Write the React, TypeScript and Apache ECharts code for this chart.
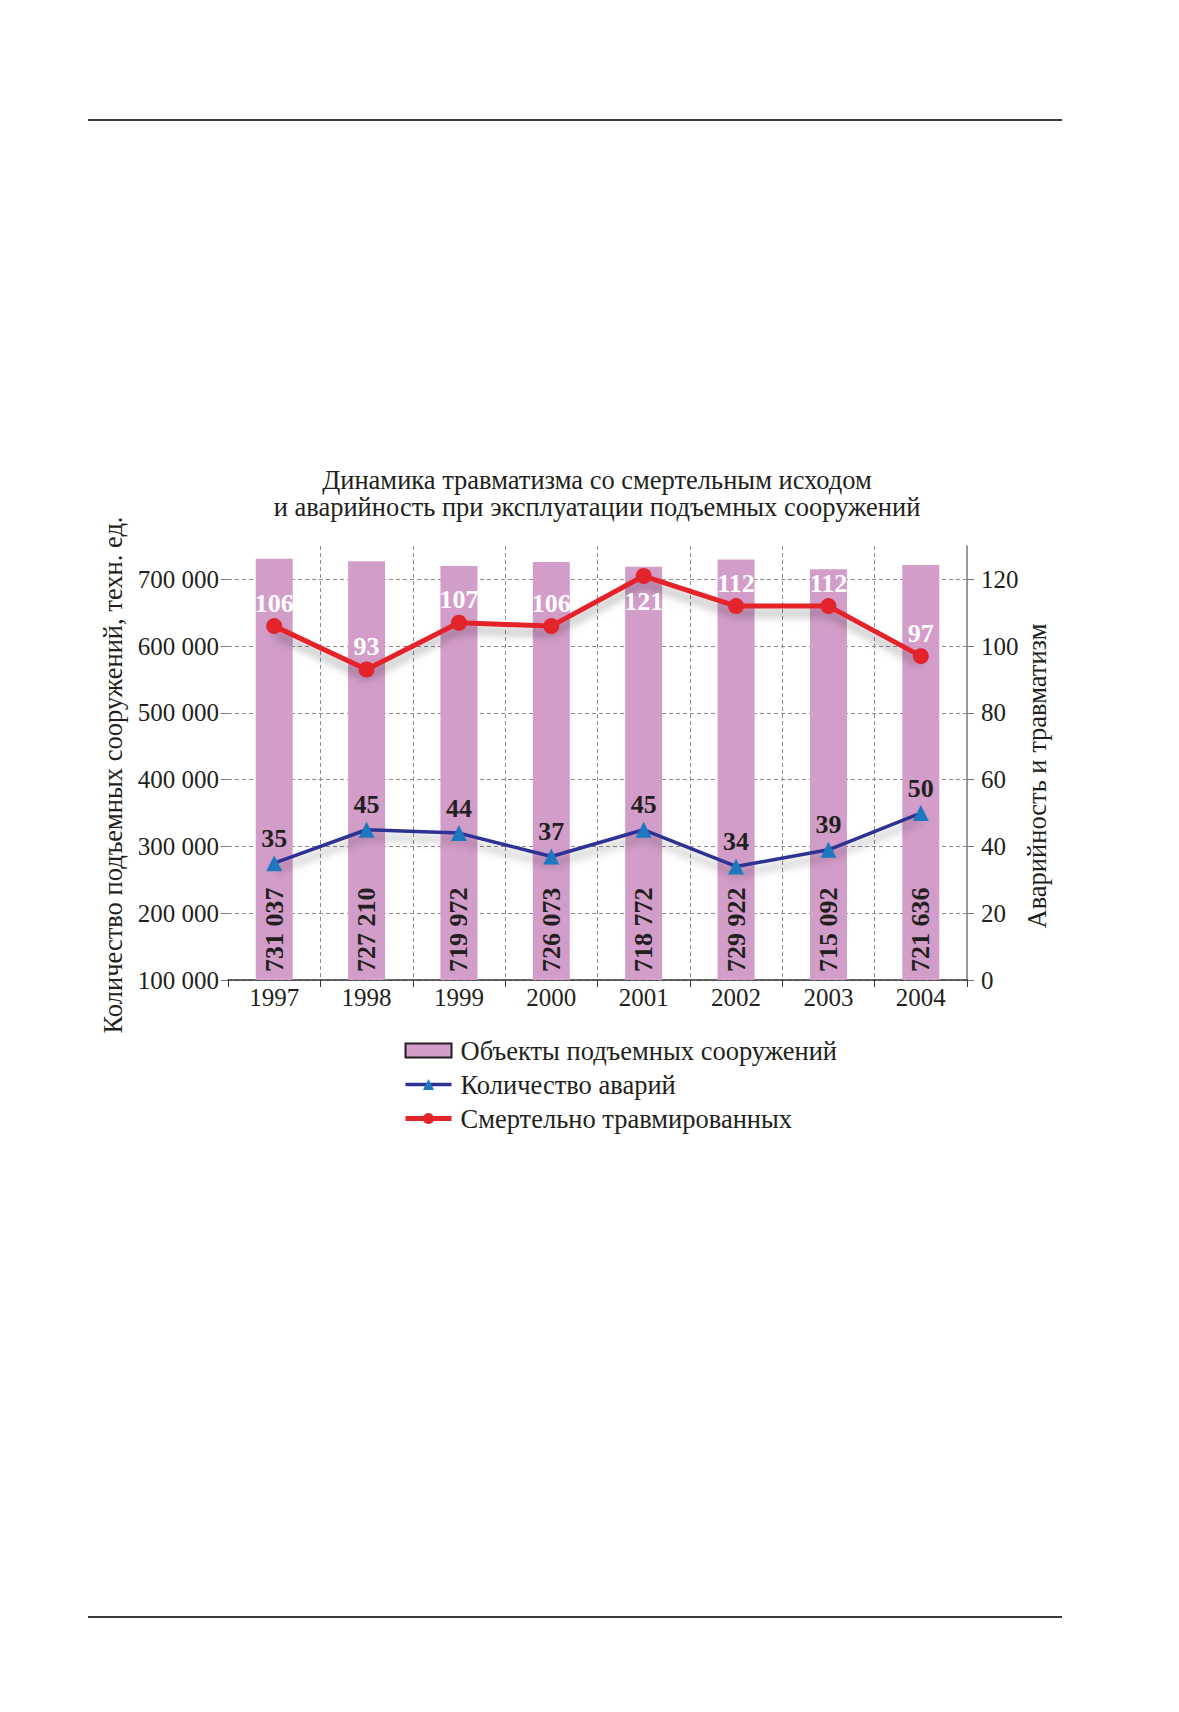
import React, { useEffect, useRef } from "react";
import * as echarts from "echarts";

const years = ["1997", "1998", "1999", "2000", "2001", "2002", "2003", "2004"];
const objectsCount = [731037, 727210, 719972, 726073, 718772, 729922, 715092, 721636];
const accidents = [35, 45, 44, 37, 45, 34, 39, 50];
const deaths = [106, 93, 107, 106, 121, 112, 112, 97];
const leftTicks = [100000, 200000, 300000, 400000, 500000, 600000, 700000];
const rightTicks = [0, 20, 40, 60, 80, 100, 120];

const titleLines = [
  "Динамика травматизма со смертельным исходом",
  "и аварийность при эксплуатации подъемных сооружений",
];
const leftName = "Количество подъемных сооружений, техн. ед.";
const rightName = "Аварийность и травматизм";
const legendNames = [
  "Объекты подъемных сооружений",
  "Количество аварий",
  "Смертельно травмированных",
];

const FONT = "'Liberation Serif', 'Times New Roman', serif";
const INK = "#231f20";
const fmt = (n: number) => String(n).replace(/\B(?=(\d{3})+(?!\d))/g, " ");

export default function App() {
  const ref = useRef<HTMLDivElement>(null);
  useEffect(() => {
    if (!ref.current) return;
    const chart = echarts.init(ref.current, null, { renderer: "svg" });
    const gridStyle = { type: [4, 3] as any, color: "#8c8c8c", width: 1 };
    chart.setOption({
      animation: false,
      backgroundColor: "#ffffff",
      textStyle: { fontFamily: FONT },
      grid: { left: 228, right: 212, top: 546, bottom: 732, containLabel: false },
      graphic: [
        { type: "line", shape: { x1: 88, y1: 120, x2: 1062, y2: 120 }, style: { stroke: "#3a3a3a", lineWidth: 2 } },
        { type: "line", shape: { x1: 88, y1: 1617, x2: 1062, y2: 1617 }, style: { stroke: "#3a3a3a", lineWidth: 2 } },
        {
          type: "text", x: 597, y: 480,
          style: { text: titleLines[0], textAlign: "center", textVerticalAlign: "middle", font: `26.5px ${FONT}`, fill: INK },
        },
        {
          type: "text", x: 597, y: 507,
          style: { text: titleLines[1], textAlign: "center", textVerticalAlign: "middle", font: `26.5px ${FONT}`, fill: INK },
        },
        {
          type: "text", x: 113, y: 775, rotation: Math.PI / 2,
          style: { text: leftName, textAlign: "center", textVerticalAlign: "middle", font: `26.5px ${FONT}`, fill: INK },
        },
        {
          type: "text", x: 1037, y: 776, rotation: Math.PI / 2,
          style: { text: rightName, textAlign: "center", textVerticalAlign: "middle", font: `26.5px ${FONT}`, fill: INK },
        },
      ],
      legend: {
        orient: "vertical",
        left: 403,
        top: 1037,
        padding: 0,
        itemWidth: 46,
        itemHeight: 14,
        itemGap: 7,
        lineStyle: { width: "inherit" },
        textStyle: { fontSize: 26.5, lineHeight: 24, color: INK, fontFamily: FONT, padding: [0, 0, 0, 4] },
        data: [
          { name: legendNames[0], icon: "rect", itemStyle: { borderColor: INK, borderWidth: 2 } },
          { name: legendNames[1] },
          { name: legendNames[2] },
        ],
      },
      xAxis: {
        type: "category",
        data: years,
        boundaryGap: true,
        axisLine: { show: true, lineStyle: { color: "#333", width: 1.5 } },
        axisTick: { show: true, length: 7, interval: 0, lineStyle: { color: "#333" } },
        axisLabel: { fontSize: 25, color: INK, fontFamily: FONT, margin: 5 },
        splitLine: { show: true, interval: (i: number) => i !== 0, lineStyle: gridStyle },
      },
      yAxis: [
        {
          type: "value",
          min: 100000,
          max: 750000,
          interval: 100000,
          axisLine: { show: false },
          axisTick: { show: true, length: 7, customValues: leftTicks, lineStyle: { color: "#777" } },
          axisLabel: { customValues: leftTicks, fontSize: 25, color: INK, fontFamily: FONT, margin: 9, formatter: (v: number) => fmt(v) },
          splitLine: { show: true, lineStyle: gridStyle },
        },
        {
          type: "value",
          min: 0,
          max: 130,
          interval: 20,
          axisLine: { show: true, lineStyle: { color: "#9a9a9a", width: 2 } },
          axisTick: { show: true, length: 7, customValues: rightTicks, lineStyle: { color: "#777" } },
          axisLabel: { customValues: rightTicks, fontSize: 25, color: INK, fontFamily: FONT, margin: 14 },
          splitLine: { show: false },
        },
      ],
      series: [
        {
          name: legendNames[0],
          type: "bar",
          yAxisIndex: 0,
          data: objectsCount,
          barWidth: 37,
          itemStyle: { color: "#d39dc9" },
          label: {
            show: true,
            position: "insideBottom",
            rotate: 90,
            align: "left",
            verticalAlign: "middle",
            distance: 8,
            fontSize: 26,
            fontWeight: "bold",
            color: INK,
            fontFamily: FONT,
            formatter: (p: any) => fmt(p.value),
          },
          z: 2,
        },
        {
          name: legendNames[1],
          type: "line",
          yAxisIndex: 1,
          data: accidents,
          symbol: "triangle",
          symbolSize: 16,
          itemStyle: { color: "#1e78c0" },
          lineStyle: { color: "#2e3192", width: 3.5, shadowColor: "rgba(0,0,0,0.35)", shadowBlur: 10, shadowOffsetY: 7 },
          label: {
            show: true,
            position: "top",
            distance: 4,
            fontSize: 26,
            fontWeight: "bold",
            color: INK,
            fontFamily: FONT,
          },
          z: 3,
        },
        {
          name: legendNames[2],
          type: "line",
          yAxisIndex: 1,
          data: deaths.map((v, i) =>
            i === 4 ? { value: v, label: { position: "bottom", distance: 4 } } : v
          ),
          symbol: "circle",
          symbolSize: 16,
          itemStyle: { color: "#e3242b" },
          lineStyle: { color: "#e3242b", width: 5, shadowColor: "rgba(0,0,0,0.35)", shadowBlur: 10, shadowOffsetY: 7 },
          label: {
            show: true,
            position: "top",
            distance: 2,
            fontSize: 26,
            fontWeight: "bold",
            color: "#ffffff",
            fontFamily: FONT,
          },
          z: 4,
        },
      ],
    });
    return () => chart.dispose();
  }, []);
  return (
    <div
      ref={ref}
      style={{ position: "absolute", left: 0, top: 0, width: 1179, height: 1712, background: "#fff" }}
    />
  );
}
